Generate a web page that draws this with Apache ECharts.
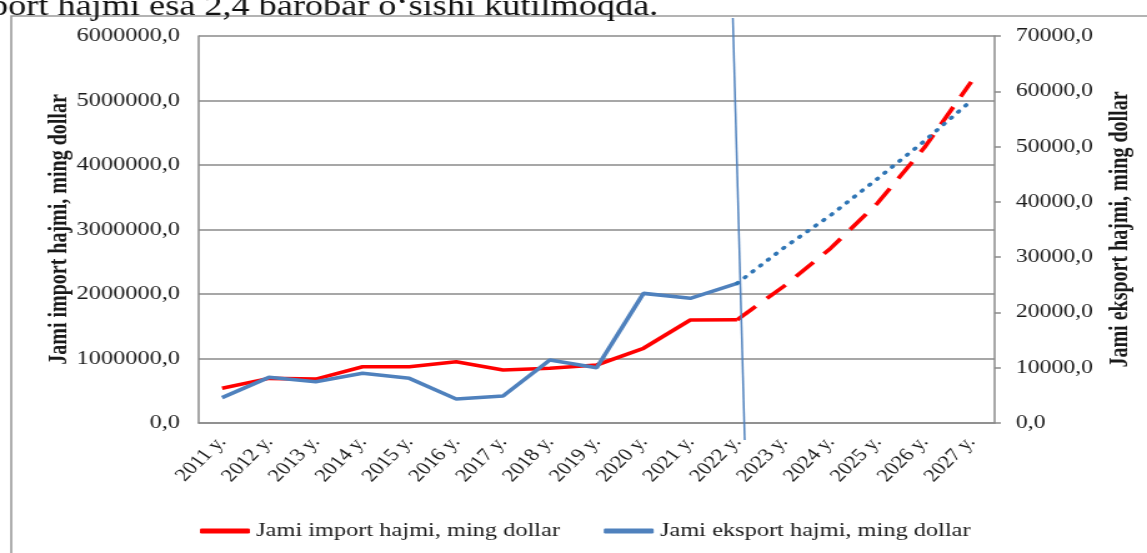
<!DOCTYPE html>
<html>
<head>
<meta charset="utf-8">
<script src="https://cdn.jsdelivr.net/npm/echarts@6/dist/echarts.min.js"></script>
<style>
  html, body { margin: 0; padding: 0; background: #fff; overflow: hidden; }
  /* the source picture is stretched sideways, so the chart is drawn narrow and widened */
  #main { width: 918px; height: 553px; transform: scaleX(1.2495); transform-origin: 0 0; }
</style>
</head>
<body>
<div id="main"></div>
<script>
var years = ['2011 y.', '2012 y.', '2013 y.', '2014 y.', '2015 y.', '2016 y.', '2017 y.', '2018 y.', '2019 y.',
    '2020 y.', '2021 y.', '2022 y.', '2023 y.', '2024 y.', '2025 y.', '2026 y.', '2027 y.'];

// import, ming dollar (left axis)
var importFact = [537000, 692000, 680000, 873000, 873000, 950000, 822000, 848000, 899000, 1158000, 1597000, 1600000,
    null, null, null, null, null];
var importProg = [null, null, null, null, null, null, null, null, null, null, null, 1600000,
    2120000, 2710000, 3410000, 4270000, 5290000];

// eksport, ming dollar (right axis)
var eksportFact = [4580, 8260, 7470, 8990, 8080, 4340, 4880, 11390, 10000, 23450, 22550, 25260,
    null, null, null, null, null];
var eksportProg = [null, null, null, null, null, null, null, null, null, null, null, 25260,
    31700, 37600, 44200, 51000, 58300];

var importName = 'Jami import hajmi, ming dollar';
var eksportName = 'Jami eksport hajmi, ming dollar';
var topText = 'port hajmi esa 2,4 barobar o‘sishi kutilmoqda.';

var serif = '"Liberation Serif", "Times New Roman", serif';
var ink = '#1a1a1a';
var grey = '#8a8a8a';

var dom = document.getElementById('main');
var myChart = echarts.init(dom);

function fmt(v) {
    return v.toFixed(1).replace('.', ',');
}

var option = {
    animation: false,
    textStyle: { fontFamily: serif, color: ink },
    graphic: [
        {
            type: 'polyline',
            shape: { points: [[9, 553], [9, 16], [918, 16]] },
            style: { stroke: '#9a9a9a', lineWidth: 1.6, fill: null }
        },
        {
            type: 'text',
            x: -8, y: 7,
            style: { text: topText, font: '29px ' + serif, fill: '#111', verticalAlign: 'middle' }
        },
        {
            type: 'line',
            shape: { x1: 586.5, y1: 18, x2: 596, y2: 440 },
            style: { stroke: '#4f81bd', lineWidth: 1.5 },
            z: 10
        }
    ],
    legend: {
        left: 155,
        top: 516,
        icon: 'roundRect',
        itemWidth: 40,
        itemHeight: 5,
        itemGap: 35,
        data: [importName, eksportName],
        textStyle: { fontFamily: serif, fontSize: 19.5, color: ink }
    },
    grid: { left: 159, right: 122, top: 36, bottom: 130 },
    xAxis: {
        type: 'category',
        data: years,
        boundaryGap: true,
        axisLine: { lineStyle: { color: grey, width: 1.5 } },
        axisTick: { show: false },
        axisLabel: { rotate: 50, margin: 16, fontSize: 18, color: ink, fontFamily: serif, interval: 0 }
    },
    yAxis: [
        {
            type: 'value',
            min: 0, max: 6000000, interval: 1000000,
            name: importName,
            nameLocation: 'middle',
            nameRotate: 90,
            nameGap: 101,
            nameMoveOverlap: false,
            nameTextStyle: { fontFamily: serif, fontSize: 20, fontWeight: 'bold', color: ink },
            axisLine: { show: true, lineStyle: { color: grey, width: 1.5 } },
            axisTick: { show: false },
            axisLabel: { formatter: fmt, margin: 15, fontSize: 19.5, color: ink, fontFamily: serif },
            splitLine: { lineStyle: { color: grey, width: 1.5 } }
        },
        {
            type: 'value',
            min: 0, max: 70000, interval: 10000,
            position: 'right',
            name: eksportName,
            nameLocation: 'middle',
            nameRotate: 90,
            nameGap: 91,
            nameMoveOverlap: false,
            nameTextStyle: { fontFamily: serif, fontSize: 20, fontWeight: 'bold', color: ink },
            axisLine: { show: true, lineStyle: { color: grey, width: 1.5 } },
            axisTick: { show: true, length: 5, lineStyle: { color: grey, width: 1.5 } },
            axisLabel: { formatter: fmt, margin: 17, fontSize: 19, color: ink, fontFamily: serif },
            splitLine: { show: false }
        }
    ],
    series: [
        {
            name: importName, type: 'line', yAxisIndex: 0, data: importFact,
            symbol: 'none', color: '#ff0000',
            lineStyle: { width: 3.6, color: '#ff0000' }
        },
        {
            name: eksportName, type: 'line', yAxisIndex: 1, data: eksportFact,
            symbol: 'none', color: '#4f81bd',
            lineStyle: { width: 3.6, color: '#4f81bd' }
        },
        {
            name: importName, type: 'line', yAxisIndex: 0, data: importProg,
            symbol: 'none', color: '#ff0000',
            lineStyle: { width: 3.6, color: '#ff0000', type: [20, 12] }
        },
        {
            name: eksportName, type: 'line', yAxisIndex: 1, data: eksportProg,
            symbol: 'none', color: '#2f75b5',
            lineStyle: { width: 3.6, color: '#2f75b5', type: [1, 7.5], cap: 'round' }
        }
    ]
};

myChart.setOption(option, true);
window.addEventListener('resize', function () {
    myChart.resize();
});
</script>
</body>
</html>
